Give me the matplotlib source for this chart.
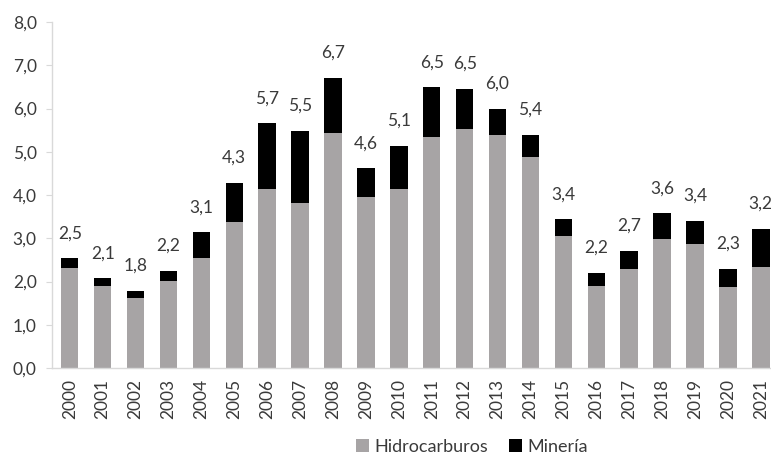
import numpy as np
import matplotlib.pyplot as plt

plt.rcParams['font.family'] = ['Lato', 'DejaVu Sans']

years = [str(y) for y in range(2000, 2022)]
hidrocarburos = [2.32, 1.90, 1.63, 2.01, 2.55, 3.37, 4.15, 3.82, 5.43, 3.96, 4.13,
                 5.35, 5.53, 5.38, 4.88, 3.05, 1.90, 2.29, 2.99, 2.86, 1.88, 2.33]
mineria = [0.22, 0.17, 0.16, 0.23, 0.59, 0.91, 1.51, 1.66, 1.28, 0.66, 1.01,
           1.14, 0.93, 0.62, 0.51, 0.39, 0.30, 0.42, 0.59, 0.55, 0.41, 0.89]

gray = '#a7a4a5'
txt = '#3a3a3a'
fs = 12.5

fig = plt.figure(figsize=(7.71, 4.62), dpi=100)
ax = fig.add_axes([52 / 771, 94 / 462, 1 - 52 / 771, 346 / 462])

x = np.arange(len(years))
hid = np.array(hidrocarburos)
min_ = np.array(mineria)
total = hid + min_

ax.bar(x, hid, width=0.53, color=gray, label='Hidrocarburos')
ax.bar(x, min_, width=0.53, bottom=hid, color='black', label='Minería')

for xi, t in zip(x, total):
    ax.annotate('{:.1f}'.format(t).replace('.', ','), (xi, t),
                xytext=(0, 18), textcoords='offset points',
                ha='center', va='center', fontsize=fs, color=txt)

ax.set_xlim(-0.54, 21.31)
ax.set_ylim(0, 8)
ax.set_yticks(np.arange(0, 8.1, 1))
ax.set_yticklabels(['{:.1f}'.format(v).replace('.', ',') for v in np.arange(0, 8.1, 1)])
ax.set_xticks(x)
ax.set_xticklabels(years, rotation=90)

for s in ['top', 'right']:
    ax.spines[s].set_visible(False)
for s in ['left', 'bottom']:
    ax.spines[s].set_color('#d9d9d9')
    ax.spines[s].set_linewidth(1.0)
ax.tick_params(axis='y', colors='#d9d9d9', labelcolor=txt, labelsize=fs, length=4, pad=7)
ax.tick_params(axis='x', length=0, labelcolor=txt, labelsize=fs, pad=8)

fig.legend(loc='center', bbox_to_anchor=(472 / 771, 1 - 447 / 462), ncol=2,
           frameon=False, fontsize=13, handlelength=0.7, handleheight=0.7,
           handletextpad=0.3, columnspacing=1.2, labelcolor=txt)

fig.savefig('out.png', dpi=100)
